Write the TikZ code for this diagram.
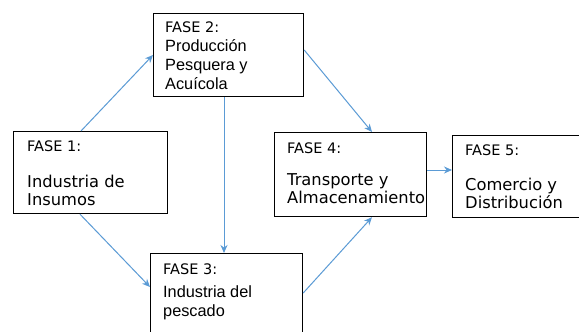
\documentclass[tikz,border=0pt]{standalone}
\usepackage{fontspec}
\newfontfamily\verd{DejaVu Sans}
\newfontfamily\arial{Liberation Sans}
\usetikzlibrary{arrows.meta,calc}
\definecolor{arr}{RGB}{91,155,213}
\begin{document}
\begin{tikzpicture}[x=1pt,y=-1pt,
  box/.style={draw=black,line width=1.2pt,inner sep=0pt,anchor=north west},
  hd/.style={anchor=base west,inner sep=0pt,font=\verd\fontsize{14.5}{17}\selectfont},
  bv/.style={anchor=base west,inner sep=0pt,font=\verd\fontsize{16.3}{19}\selectfont},
  ba/.style={anchor=base west,inner sep=0pt,font=\arial\fontsize{16.3}{19}\selectfont},
  conn/.style={draw=arr,line width=1pt,-{Stealth[length=8pt,width=7pt]}}]
\fill[white] (0,0) rectangle (579,332);
\useasboundingbox (0,0) rectangle (579,332);
% boxes
\node[box,minimum width=154pt,minimum height=82pt] (b1) at (13,131) {};
\node[box,minimum width=150pt,minimum height=83pt] (b2) at (153,13) {};
\node[box,minimum width=152pt,minimum height=95pt] (b3) at (150,253) {};
\node[box,minimum width=152pt,minimum height=84pt] (b4) at (274,132) {};
\node[box,minimum width=135pt,minimum height=82pt] (b5) at (452,135) {};
% texts
\node[hd] (t1a) at (27,151) {FASE 1:};
\node[bv] (t1b) at (27,187) {Industria de};
\node[bv] (t1c) at (27,205) {Insumos};
\node[hd] (t2a) at (165,32) {FASE 2:};
\node[ba] (t2b) at (165,51) {Producción};
\node[ba] (t2c) at (165,70) {Pesquera y};
\node[ba] (t2d) at (165,89) {Acuícola};
\node[hd] (t3a) at (163,274) {FASE 3:};
\node[ba] (t3b) at (163,297) {Industria del};
\node[ba] (t3c) at (163,316) {pescado};
\node[hd] (t4a) at (287,153) {FASE 4:};
\node[bv] (t4b) at (287,185) {Transporte y};
\node[bv] (t4c) at (287,203) {Almacenamiento};
\node[hd] (t5a) at (465,155) {FASE 5:};
\node[bv] (t5b) at (465,190) {Comercio y};
\node[bv] (t5c) at (465,208) {Distribución};
% connectors
\draw[conn] ($(b1.north west)+(68,0)$) -- ($(b2.north west)+(0,42)$);
\draw[conn] ($(b1.south west)+(67,0)$) -- ($(b3.north west)+(0,34)$);
\draw[conn] ($(b2.south west)+(71,0)$) -- ($(b3.north west)+(74,0)$);
\draw[conn] ($(b2.north east)+(0,37)$) -- ($(b4.north west)+(98,0)$);
\draw[conn] ($(b3.north east)+(0,40)$) -- ($(b4.south west)+(98,0)$);
\draw[conn] ($(b4.north east)+(0,38)$) -- ($(b5.north west)+(0,35)$);
\end{tikzpicture}
\end{document}
